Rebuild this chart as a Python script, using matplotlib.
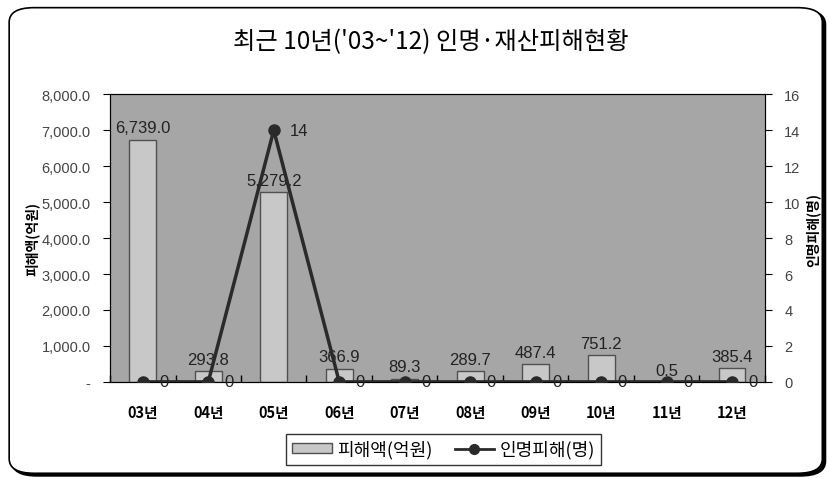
import matplotlib
matplotlib.use('Agg')
import matplotlib.pyplot as plt
from matplotlib.patches import FancyBboxPatch, Patch
from matplotlib.lines import Line2D
from matplotlib.ticker import FuncFormatter
import numpy as np

plt.rcParams['font.family'] = ['Noto Sans CJK KR', 'DejaVu Sans']

years = ['03년', '04년', '05년', '06년', '07년', '08년', '09년', '10년', '11년', '12년']
damage = [6739.0, 293.8, 5279.2, 366.9, 89.3, 289.7, 487.4, 751.2, 0.5, 385.4]
casualty = [0, 0, 14, 0, 0, 0, 0, 0, 0, 0]

fig = plt.figure(figsize=(8.34, 4.81), dpi=100)

# rounded frame around the chart, with a small shadow at bottom-right
shadow = FancyBboxPatch((0.0145, 0.009), 0.975, 0.968, boxstyle='round,pad=0,rounding_size=0.03',
                        transform=fig.transFigure, facecolor='black', edgecolor='black',
                        linewidth=1.5, zorder=-6)
frame = FancyBboxPatch((0.011, 0.014), 0.975, 0.968, boxstyle='round,pad=0,rounding_size=0.03',
                       transform=fig.transFigure, facecolor='white', edgecolor='black',
                       linewidth=1.2, zorder=-5)
fig.patches.append(shadow)
fig.patches.append(frame)

ax = fig.add_axes([0.132, 0.204, 0.785, 0.598])
ax.set_facecolor('#a6a6a6')
x = np.arange(len(years))

ax.bar(x, damage, width=0.41, color='#c8c8c8', edgecolor='#505050', linewidth=1, zorder=2)
for xi, v in zip(x, damage):
    ax.text(xi, v + 120, f'{v:,.1f}', ha='center', va='bottom', fontsize=12,
            family=['Liberation Sans', 'DejaVu Sans'], color='#222222', zorder=5)

ax.set_xlim(-0.5, len(years) - 0.5)
ax.set_ylim(0, 8000)
ax.set_yticks(np.arange(0, 8001, 1000))
ax.yaxis.set_major_formatter(FuncFormatter(lambda v, p: '-' if v == 0 else f'{v:,.1f}'))
ax.set_xticks(x)
ax.set_xticklabels(years, fontsize=10.5, fontweight='bold')
ax.set_xticks(np.arange(-0.5, len(years), 1), minor=True)
ax.tick_params(axis='x', which='major', length=0, pad=16)
ax.tick_params(axis='x', which='minor', direction='in', length=5, width=1)
ax.tick_params(axis='y', direction='out', length=5, pad=9, labelsize=10.5, labelcolor='#444444')
for lab in ax.get_yticklabels():
    lab.set_family(['Liberation Sans', 'DejaVu Sans'])
ax.set_ylabel('피해액(억원)', fontsize=10, fontweight='bold', va='center')
ax.yaxis.set_label_coords(-0.119, 0.5)
for s in ax.spines.values():
    s.set_color('#222222')

ax2 = ax.twinx()
ax2.plot(x, casualty, color='#2a2a2a', linewidth=2.5, marker='o', markersize=8, zorder=4)
for xi, v in zip(x, casualty):
    ax2.text(xi + 0.25, v, f'{v}', ha='left', va='center', fontsize=12,
             family=['Liberation Sans', 'DejaVu Sans'], color='#222222')
ax2.set_ylim(0, 16)
ax2.set_yticks(np.arange(0, 17, 2))
ax2.tick_params(axis='y', direction='out', length=5, pad=9, labelsize=10.5, labelcolor='#444444')
for lab in ax2.get_yticklabels():
    lab.set_family(['Liberation Sans', 'DejaVu Sans'])
ax2.set_ylabel('인명피해(명)', fontsize=10, fontweight='bold', rotation=90, va='center')
ax2.yaxis.set_label_coords(1.073, 0.53)

fig.text(0.517, 0.912, "최근 10년('03~'12) 인명·재산피해현황", ha='center', va='center',
         fontsize=17.5, fontweight='medium')

handles = [Patch(facecolor='#c8c8c8', edgecolor='#505050'),
           Line2D([0], [0], color='#2a2a2a', linewidth=2, marker='o', markersize=7)]
fig.legend(handles, ['피해액(억원)', '인명피해(명)'], loc='center', bbox_to_anchor=(0.532, 0.064),
           ncol=2, fontsize=13, frameon=True, fancybox=False, edgecolor='black',
           handlelength=2.2, handleheight=0.5, handletextpad=0.3, columnspacing=1.2,
           borderpad=0.35)

fig.savefig('out.png', dpi=100)
